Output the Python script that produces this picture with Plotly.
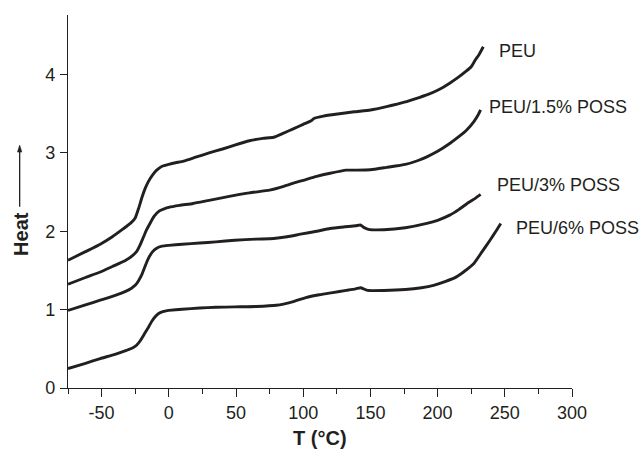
import plotly.graph_objects as go

# ---- data ----
peu_T = [-75, -62, -51, -42, -34, -28, -25, -22.5, -20, -17.5, -15, -12, -9, -5, 0, 5, 11, 20, 30, 40, 49,
         60, 70, 78, 85, 93, 100, 106, 108, 115, 127, 138, 150, 162, 176, 185, 192, 200, 209, 215, 221,
         225, 228, 231, 234]
peu_H = [1.63, 1.74, 1.835, 1.93, 2.03, 2.11, 2.17, 2.29, 2.43, 2.55, 2.64, 2.72, 2.78, 2.83, 2.855, 2.875,
         2.895, 2.945, 3.0, 3.05, 3.10, 3.155, 3.185, 3.20, 3.25, 3.31, 3.365, 3.41, 3.44, 3.47, 3.50, 3.525,
         3.547, 3.59, 3.65, 3.70, 3.74, 3.80, 3.89, 3.96, 4.04, 4.10, 4.185, 4.26, 4.355]

p15_T = [-75, -62, -51, -42, -32, -27, -24, -21.5, -19, -16.5, -14, -11, -7, -3, 0, 8, 18, 30, 45, 60, 75,
         83, 90, 100, 110, 120, 132, 140, 150, 162, 176, 185, 192, 200, 209, 216, 222, 227, 230, 232]
p15_H = [1.324, 1.41, 1.48, 1.55, 1.63, 1.69, 1.74, 1.82, 1.92, 2.02, 2.10, 2.19, 2.26, 2.29, 2.305, 2.33,
         2.355, 2.395, 2.445, 2.49, 2.525, 2.56, 2.60, 2.65, 2.70, 2.74, 2.78, 2.78, 2.785, 2.815, 2.853,
         2.90, 2.95, 3.02, 3.12, 3.21, 3.30, 3.40, 3.48, 3.55]

p3_T = [-75, -62, -51, -42, -33, -28, -25, -22.5, -20, -17.5, -15, -12, -9, -5, 0, 10, 23, 35, 49, 65, 78,
        88, 98, 110, 120, 130, 139, 142.5, 145, 148.5, 160, 176, 192, 200, 209, 216, 222, 228, 232]
p3_H = [0.99, 1.06, 1.12, 1.17, 1.226, 1.27, 1.31, 1.37, 1.45, 1.56, 1.66, 1.74, 1.785, 1.81, 1.82, 1.835,
        1.85, 1.865, 1.886, 1.90, 1.908, 1.93, 1.963, 2.0, 2.035, 2.055, 2.07, 2.08, 2.05, 2.025, 2.02,
        2.045, 2.10, 2.14, 2.206, 2.28, 2.355, 2.42, 2.47]

p6_T = [-75, -62, -51, -40, -31.5, -27, -24, -21, -18, -15, -12.5, -9, -6, -2, 0, 10, 23, 35, 49, 65, 80,
        92, 102, 112, 122, 132, 139, 142.8, 145, 148, 160, 176, 188, 197, 206, 214, 220, 227, 233, 239,
        243, 247]
p6_H = [0.248, 0.315, 0.375, 0.43, 0.48, 0.51, 0.545, 0.61, 0.695, 0.78, 0.855, 0.93, 0.965, 0.985, 0.99,
        1.005, 1.02, 1.03, 1.035, 1.04, 1.056, 1.10, 1.154, 1.19, 1.218, 1.245, 1.265, 1.28, 1.265, 1.245,
        1.245, 1.257, 1.28, 1.31, 1.36, 1.418, 1.49, 1.59, 1.737, 1.886, 1.99, 2.10]

series_names = ["PEU", "PEU/1.5% POSS", "PEU/3% POSS", "PEU/6% POSS"]
label_T = [244.3, 237.1, 242.9, 256.5]
label_H = [4.30, 3.58, 2.59, 2.036]

x_ticks = [-50, 0, 50, 100, 150, 200, 250, 300]
x_tick_text = ["-50", "0", "50", "100", "150", "200", "250", "300"]
y_ticks = [0, 1, 2, 3, 4]
y_tick_text = ["0", "1", "2", "3", "4"]

INK = "#231f20"
FONT = "Liberation Sans, Arial, Helvetica, sans-serif"

fig = go.Figure()
for T, H, name in zip([peu_T, p15_T, p3_T, p6_T], [peu_H, p15_H, p3_H, p6_H], series_names):
    fig.add_trace(go.Scatter(x=T, y=H, mode="lines", name=name,
                             line=dict(color=INK, width=2.9, shape="spline", smoothing=0.5)))

for name, tx, hy in zip(series_names, label_T, label_H):
    fig.add_annotation(x=tx, y=hy, text=name, showarrow=False, xanchor="left", yanchor="middle",
                       font=dict(family=FONT, size=18, color=INK))

# axis titles
fig.add_annotation(xref="paper", yref="paper", x=0.5, y=-0.135, text="<b>T (°C)</b>", showarrow=False,
                   xanchor="center", yanchor="middle", font=dict(family=FONT, size=20, color=INK))
fig.add_annotation(xref="paper", yref="paper", x=-0.0934, y=0.413, text="<b>Heat</b>", showarrow=False,
                   textangle=-90, xanchor="center", yanchor="middle", font=dict(family=FONT, size=20, color=INK))

# upward arrow beside "Heat"
ax_x = -0.0959
fig.add_shape(type="line", xref="paper", yref="paper", x0=ax_x, x1=ax_x, y0=0.4856, y1=0.636,
              line=dict(color=INK, width=1.3))
hw = 0.0044
fig.add_shape(type="path", xref="paper", yref="paper",
              path=f"M {ax_x - hw} 0.6324 L {ax_x + hw} 0.6324 L {ax_x} 0.6512 Z",
              fillcolor=INK, line=dict(color=INK, width=0.5))

fig.update_layout(
    width=641, height=450,
    margin=dict(l=68, r=69, t=15, b=62, autoexpand=False),
    plot_bgcolor="white", paper_bgcolor="white",
    showlegend=False,
    font=dict(family=FONT, size=18, color=INK),
)
fig.update_xaxes(range=[-75, 300], tickvals=x_ticks, ticktext=x_tick_text, ticks="outside", ticklen=8,
                 tickwidth=1.4, tickcolor=INK, showline=True, linecolor=INK, linewidth=1.3, showgrid=False,
                 zeroline=False, tickfont=dict(family=FONT, size=18, color=INK),
                 minor=dict(dtick=25, tick0=0, ticks="outside", ticklen=5, tickwidth=1.4, tickcolor=INK,
                            showgrid=False))
fig.update_yaxes(range=[0, 4.76], tickvals=y_ticks, ticktext=y_tick_text, ticks="outside", ticklen=7,
                 tickwidth=1.4, tickcolor=INK, showline=True, linecolor=INK, linewidth=1.3, showgrid=False,
                 zeroline=False, ticklabelstandoff=1, tickfont=dict(family=FONT, size=18, color=INK))

fig.write_html("out.html")
